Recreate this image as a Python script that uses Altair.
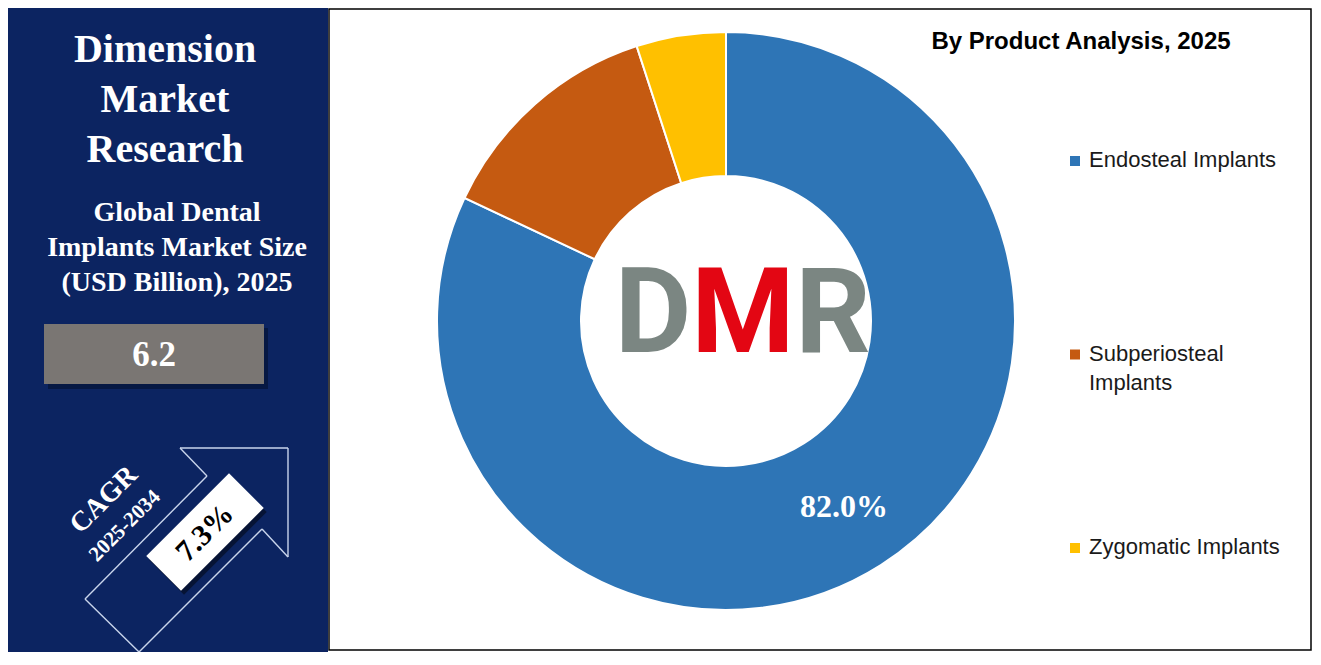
import altair as alt
import pandas as pd

# ---- data ----
categories = ["Endosteal Implants", "Subperiosteal Implants", "Zygomatic Implants"]
shares = [82.0, 13.0, 5.0]
legend_labels = ["Endosteal Implants", "Subperiosteal\nImplants", "Zygomatic Implants"]
slice_colors = ["#2E75B6", "#C55A11", "#FFC000"]

title_lines = ["Dimension", "Market", "Research"]
subtitle_lines = ["Global Dental", "Implants Market Size", "(USD Billion), 2025"]
market_size = "6.2"
cagr_label = "CAGR"
cagr_period = "2025-2034"
cagr_value = "7.3%"
chart_title = "By Product Analysis, 2025"
logo_letters = ["D", "M", "R"]

# ---- layout ----
W, H = 1305, 644
CX, CY = 718, 313
SERIF = "Liberation Serif"
SANS = "Liberation Sans"
NAVY = "#0c2461"

df = pd.DataFrame({
    "category": categories,
    "share": shares,
    "label": legend_labels,
    "idx": list(range(len(categories))),
})
one = pd.DataFrame({"k": [0]})


def deco():
    return alt.Chart(one)


def v(n):
    return alt.value(n)


color_scale = alt.Scale(domain=categories, range=slice_colors)
layers = []

# panels
layers.append(deco().mark_rect(color=NAVY).encode(x=v(0), x2=v(320), y=v(0), y2=v(H)))
layers.append(deco().mark_rect(fill="white", stroke="black", strokeWidth=1.5)
              .encode(x=v(321), x2=v(1303), y=v(1), y2=v(H - 2)))

# left titles
for i, line in enumerate(title_lines):
    layers.append(deco().mark_text(text=line, font=SERIF, fontWeight="bold", fontSize=40,
                                   color="white", align="center", baseline="middle")
                  .encode(x=v(157), y=v(42 + 50 * i)))
for i, line in enumerate(subtitle_lines):
    layers.append(deco().mark_text(text=line, font=SERIF, fontWeight="bold", fontSize=28,
                                   color="white", align="center", baseline="middle")
                  .encode(x=v(169), y=v(205 + 35 * i)))

# market size box
layers.append(deco().mark_rect(color="#04102e", opacity=0.6)
              .encode(x=v(40), x2=v(260), y=v(320), y2=v(381)))
layers.append(deco().mark_rect(color="#7a7673")
              .encode(x=v(36), x2=v(256), y=v(316), y2=v(376)))
layers.append(deco().mark_text(text=market_size, font=SERIF, fontWeight="bold", fontSize=35,
                               color="white", align="center", baseline="middle")
              .encode(x=v(146), y=v(347)))

# arrow outline
arrow_pts = [(172, 440), (280, 440), (280, 549), (254, 521), (131, 644), (77, 591), (199, 468), (172, 440)]
for (x1, y1), (x2, y2) in zip(arrow_pts[:-1], arrow_pts[1:]):
    layers.append(deco().mark_rule(color="#c9d5ec", strokeWidth=1.4)
                  .encode(x=v(x1), y=v(y1), x2=v(x2), y2=v(y2)))

rect_path = "M-1,-0.42L1,-0.42L1,0.42L-1,0.42Z"
layers.append(deco().mark_point(shape=rect_path, size=117 * 117, angle=315, filled=True,
                                color="#000000", opacity=0.45)
              .encode(x=v(200), y=v(528)))
layers.append(deco().mark_point(shape=rect_path, size=117 * 117, angle=315, filled=True,
                                color="white", opacity=1)
              .encode(x=v(197), y=v(524)))
layers.append(deco().mark_text(text=cagr_value, font=SERIF, fontWeight="bold", fontSize=30,
                               color="black", align="center", baseline="middle", angle=315)
              .encode(x=v(197), y=v(525)))
layers.append(deco().mark_text(text=cagr_label, font=SERIF, fontWeight="bold", fontSize=28,
                               color="white", align="center", baseline="middle", angle=315)
              .encode(x=v(96), y=v(492)))
layers.append(deco().mark_text(text=cagr_period, font=SERIF, fontWeight="bold", fontSize=21,
                               color="white", align="center", baseline="middle", angle=315)
              .encode(x=v(117), y=v(518)))

# donut
base = alt.Chart(df)
layers.append(base.mark_arc(innerRadius=145, outerRadius=289, stroke="white", strokeWidth=2)
              .encode(theta=alt.Theta("share:Q", stack=True),
                      color=alt.Color("category:N", scale=color_scale, legend=None),
                      order=alt.Order("idx:Q"),
                      x=v(CX), y=v(CY)))
layers.append(base.transform_calculate(
    lbl="datum.idx == 0 ? format(datum.share, '.1f') + '%' : ''")
    .mark_text(radius=220, font=SERIF, fontWeight="bold", fontSize=32, color="white",
               align="center", baseline="middle")
    .encode(theta=alt.Theta("share:Q", stack=True), order=alt.Order("idx:Q"),
            text="lbl:N", x=v(CX), y=v(CY)))

# logo
logo_x = [645, 735, 825]
logo_c = ["#7b8682", "#e30613", "#7b8682"]
for letter, lx, lc in zip(logo_letters, logo_x, logo_c):
    layers.append(deco().mark_text(text=letter, font="Roboto", fontWeight="bold", fontSize=118,
                                   color=lc, align="center", baseline="alphabetic")
                  .encode(x=v(lx), y=v(344)))

# legend
ypos = alt.Y("category:N", scale=alt.Scale(type="point", domain=categories, range=[153, 540], padding=0),
             axis=None)
layers.append(base.mark_square(size=100, opacity=1)
              .encode(x=v(1067), y=ypos,
                      color=alt.Color("category:N", scale=color_scale, legend=None)))
layers.append(base.mark_text(font=SANS, fontSize=22, color="#1a1a1a", align="left",
                             baseline="top", dy=-11, lineBreak="\n", lineHeight=29)
              .encode(x=v(1081), y=ypos, text="label:N"))

# title
layers.append(deco().mark_text(text=chart_title, font=SANS, fontWeight="bold", fontSize=24,
                               color="black", align="center", baseline="middle")
              .encode(x=v(1073), y=v(34)))

chart = alt.layer(*layers).properties(
    width=W, height=H, padding=0, autosize="none", background="white"
).configure_view(stroke=None)

chart.save("out.html", embed_options={"renderer": "svg", "actions": False})
